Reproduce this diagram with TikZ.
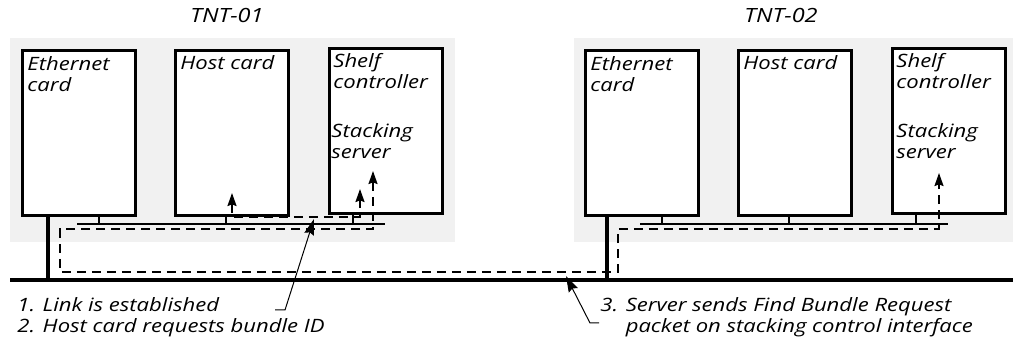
\documentclass[tikz,border=0pt]{standalone}
\usepackage{fontspec}
\setmainfont{Open Sans}[FakeStretch=1.2]
\usetikzlibrary{arrows.meta, positioning}

\definecolor{shelfgray}{RGB}{241,241,241}

\tikzset{
  txt/.style={font=\fontsize{9.2}{10.5}\selectfont\itshape, inner sep=0pt},
  lbl/.style={txt, align=left, anchor=base west},
  card/.style={draw, line width=1.3pt, fill=white, inner sep=0pt,
    minimum width=56.5pt, minimum height=82.5pt, anchor=north west},
  lan/.style={line width=1.6pt},
  bp/.style={line width=1pt},
  msg/.style={line width=0.9pt, dash pattern=on 4.5pt off 3pt,
    {Stealth[length=6.5pt,width=4.5pt,inset=0.8pt]}-{Stealth[length=6.5pt,width=4.5pt,inset=0.8pt]}},
  callout/.style={line width=0.5pt, -{Stealth[length=8pt,width=5pt,inset=1pt]}}
}

\begin{document}
\begin{tikzpicture}[x=0.5pt, y=-0.5pt]
\useasboundingbox (0,0) rectangle (1013,341);
% shelves
\fill[shelfgray] (10,38) rectangle (455,242);
\fill[shelfgray] (574,38) rectangle (1013,242);
\node[txt, font=\fontsize{9.8}{10.5}\selectfont\itshape] (tnt1) at (227,15) {TNT-01};
\node[txt, font=\fontsize{9.8}{10.5}\selectfont\itshape] (tnt2) at (781,15) {TNT-02};

% cards
\node[card] (eth1) at (21,49) {};
\node[card] (host1) at (174,49) {};
\node[card] (shc1) at (328,47) {};
\node[card] (eth2) at (584,49) {};
\node[card] (host2) at (737,49) {};
\node[card] (shc2) at (891,47) {};

% (base of a two-line label = its last line)
\node[lbl] (eth1t) at (27,92) {Ethernet\\card};
\node[lbl] (host1t) at (180,70) {Host card};
\node[lbl] (shc1t) at (333,89) {Shelf\\controller};
\node[lbl] (srv1) at (331,159) {Stacking\\server};
\node[lbl] (eth2t) at (590,92) {Ethernet\\card};
\node[lbl] (host2t) at (743,70) {Host card};
\node[lbl] (shc2t) at (896,89) {Shelf\\controller};
\node[lbl] (srv2) at (896,159) {Stacking\\server};

% backplanes and LAN
\coordinate (lan-w) at (10,280);
\coordinate (lan-e) at (1013,280);
\draw[lan] (lan-w) -- (lan-e);
\foreach \n/\x in {eth1/48, eth2/607}
  \draw[lan] (\x,280) coordinate (u-\n) -- (u-\n |- \n.south);
\draw[bp] (77,224) coordinate (bp1-w) -- (385,224) coordinate (bp1-e);
\draw[bp] (640,224) coordinate (bp2-w) -- (948,224) coordinate (bp2-e);
\foreach \n/\x in {eth1/99, host1/226, shc1/353, eth2/662, host2/789, shc2/916}
  \draw[bp] (\x,224) coordinate (s-\n) -- (s-\n |- \n.south);

% messages
\coordinate (req-a) at (232,193);
\coordinate (req-b) at (360,189);
\draw[msg] (req-a) -- (232,217) -- (360,217) -- (req-b);
\coordinate (fbr-a) at (373,171);
\coordinate (fbr-b) at (939,173);
\draw[msg] (fbr-a) -- (373,229) -- (60,229) -- (60,272) -- (618,272)
  -- (618,229) -- (939,229) -- (fbr-b);

% notes
\node[lbl] (note12) at (17,333) {1. Link is established\\2. Host card requests bundle ID};
\node[lbl] (note3) at (600,333) {3. Server sends Find Bundle Request\\\phantom{3. }packet on stacking control interface};
\coordinate (c1) at (275,310);
\coordinate (c3) at (599,323);
\draw[callout] (c1) -- (285,310) -- (314,219);
\draw[callout] (c3) -- (590,323) -- (566,276);
\end{tikzpicture}
\end{document}
